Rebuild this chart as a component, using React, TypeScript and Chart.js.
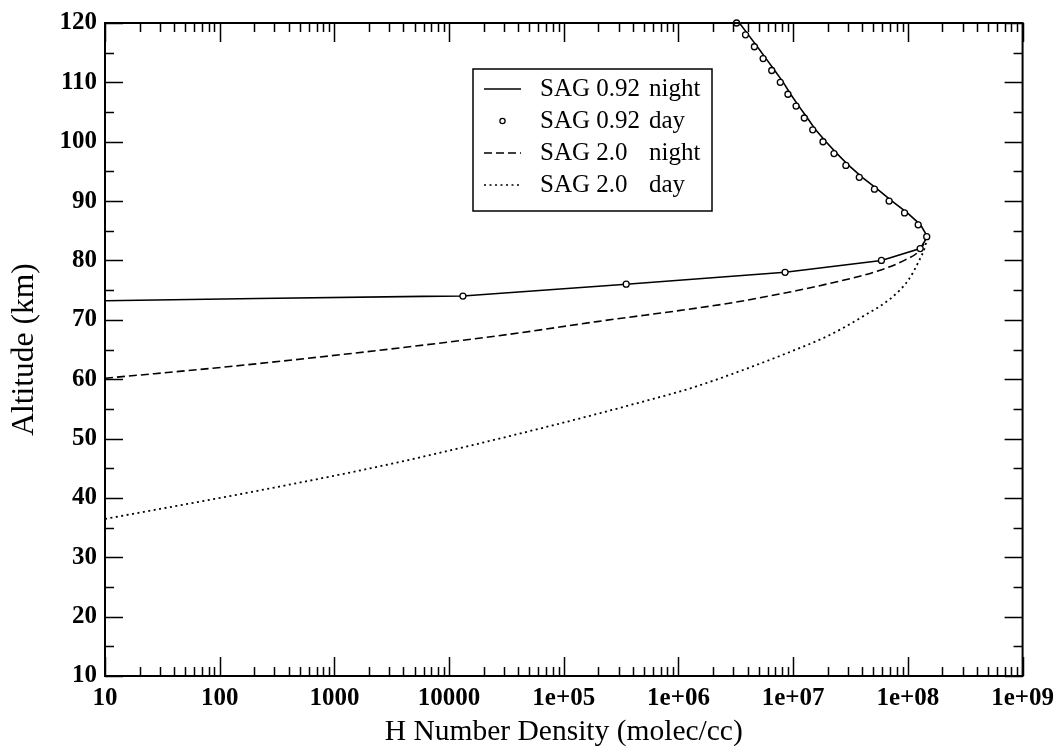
import React, { useEffect, useRef } from 'react';
import { Chart, registerables } from 'chart.js';

Chart.register(...registerables);

const FONT = '"Liberation Serif", "Times New Roman", Times, serif';

// Axis setup / tick labels
const decadeLabels = ['10', '100', '1000', '10000', '1e+05', '1e+06', '1e+07', '1e+08', '1e+09'];
const xMin = 10;
const xMax = 1e9;
const yMin = 10;
const yMax = 120;
const yStep = 10;

// SAG 0.92 night (solid line)
const sag092NightAltitude = [73.22, 73.6, 73.95, 74, 76, 78, 80, 82, 84, 86, 88, 90, 92, 94, 96, 98, 100, 102, 104, 106, 108, 110, 112, 114, 116, 118, 120];
const sag092NightDensity = [10, 212, 5.9e3, 1.32e4, 3.5e5, 8.5e6, 5.88e7, 1.28e8, 1.48e8, 1.29e8, 9.9e7, 7.27e7, 5.42e7, 4.0e7, 3.05e7, 2.41e7, 1.93e7, 1.57e7, 1.33e7, 1.12e7, 9.5e6, 8.2e6, 6.9e6, 5.8e6, 4.87e6, 4.07e6, 3.4e6];

// SAG 0.92 day (circles)
const sag092DayAltitude = [74, 76, 78, 80, 82, 84, 86, 88, 90, 92, 94, 96, 98, 100, 102, 104, 106, 108, 110, 112, 114, 116, 118, 120];
const sag092DayDensity = [1.32e4, 3.5e5, 8.5e6, 5.88e7, 1.28e8, 1.46e8, 1.23e8, 9.35e7, 6.86e7, 5.11e7, 3.77e7, 2.88e7, 2.27e7, 1.82e7, 1.48e7, 1.25e7, 1.06e7, 9.0e6, 7.72e6, 6.5e6, 5.47e6, 4.59e6, 3.84e6, 3.21e6];

// SAG 2.0 night (dashed)
const sag20NightAltitude = [60.15, 62.6, 67.3, 69.7, 72.8, 74.9, 76.1, 78.1, 80.1, 81.8, 84];
const sag20NightDensity = [10, 212, 2.65e4, 1.95e5, 2.77e6, 1.06e7, 2.04e7, 5.21e7, 9.48e7, 1.28e8, 1.48e8];

// SAG 2.0 day (dotted)
const sag20DayAltitude = [36.45, 41.3, 46.0, 52.0, 56.7, 58.6, 65.0, 67.4, 70.5, 73.8, 76.7, 79.8, 82.3, 84];
const sag20DayDensity = [10, 228, 3.6e3, 7.2e4, 6.05e5, 1.34e6, 1.06e7, 2.06e7, 4.0e7, 7.28e7, 1.01e8, 1.24e8, 1.41e8, 1.48e8];

const legendLabels = [
  ['SAG 0.92', 'night'],
  ['SAG 0.92', 'day'],
  ['SAG 2.0', 'night'],
  ['SAG 2.0', 'day'],
];

const toPoints = (xs: number[], ys: number[]) => xs.map((x, i) => ({ x, y: ys[i] }));

const frameTicksPlugin = {
  id: 'frameTicks',
  afterDatasetsDraw(chart: any) {
    const { ctx, chartArea: a, scales } = chart;
    const xs = scales.x;
    const ys = scales.y;
    ctx.save();
    ctx.strokeStyle = '#000';
    ctx.lineWidth = 1.5;
    ctx.beginPath();
    for (let e = 1; e <= 9; e++) {
      for (let m = 1; m <= 9; m++) {
        const v = m * Math.pow(10, e);
        if (v > xMax) break;
        const px = Math.round(xs.getPixelForValue(v)) + 0.5;
        const len = m === 1 ? 19 : 9;
        ctx.moveTo(px, a.bottom);
        ctx.lineTo(px, a.bottom - len);
        ctx.moveTo(px, a.top);
        ctx.lineTo(px, a.top + len);
      }
    }
    for (let v = yMin; v <= yMax; v += yStep / 2) {
      const py = Math.round(ys.getPixelForValue(v)) + 0.5;
      const major = Math.abs((v - yMin) % yStep) < 1e-9;
      const len = major ? 18 : 9;
      ctx.moveTo(a.left, py);
      ctx.lineTo(a.left + len, py);
      ctx.moveTo(a.right, py);
      ctx.lineTo(a.right - len, py);
    }
    ctx.stroke();
    ctx.lineWidth = 2;
    ctx.strokeRect(a.left, a.top, a.right - a.left, a.bottom - a.top);
    ctx.restore();
  },
};

const legendPlugin = {
  id: 'boxLegend',
  afterDraw(chart: any) {
    const { ctx, chartArea: a } = chart;
    const bx = a.left + 368;
    const by = a.top + 46;
    const bw = 239;
    const bh = 142;
    ctx.save();
    ctx.fillStyle = '#fff';
    ctx.fillRect(bx, by, bw, bh);
    ctx.strokeStyle = '#000';
    ctx.lineWidth = 1.5;
    ctx.strokeRect(bx, by, bw, bh);
    const rowY = [20, 52, 84, 116];
    const lx0 = bx + 11;
    const lx1 = bx + 48;
    ctx.font = `25px ${FONT}`;
    ctx.textBaseline = 'middle';
    ctx.fillStyle = '#000';
    legendLabels.forEach((lab, i) => {
      const y = by + rowY[i];
      ctx.lineWidth = 1.6;
      ctx.beginPath();
      if (i === 1) {
        ctx.lineWidth = 1.3;
        ctx.arc((lx0 + lx1) / 2, y, 2.6, 0, Math.PI * 2);
        ctx.stroke();
      } else {
        ctx.setLineDash(i === 0 ? [] : i === 2 ? [8, 4] : [2, 3.5]);
        ctx.moveTo(lx0, y);
        ctx.lineTo(lx1, y);
        ctx.stroke();
        ctx.setLineDash([]);
      }
      ctx.fillText(lab[0], bx + 67, y);
      ctx.fillText(lab[1], bx + 176, y);
    });
    ctx.restore();
  },
};

export default function App() {
  const canvasRef = useRef<HTMLCanvasElement | null>(null);

  useEffect(() => {
    if (!canvasRef.current) return;
    Chart.defaults.font.family = FONT;
    const chart = new Chart(canvasRef.current, {
      type: 'scatter',
      data: {
        datasets: [
          {
            label: 'SAG 0.92 day',
            data: toPoints(sag092DayDensity, sag092DayAltitude),
            showLine: false,
            pointRadius: 3,
            pointBorderWidth: 1.3,
            pointBackgroundColor: '#fff',
            pointBorderColor: '#000',
            clip: false as any,
            order: 0,
          },
          {
            label: 'SAG 0.92 night',
            data: toPoints(sag092NightDensity, sag092NightAltitude),
            showLine: true,
            borderColor: '#000',
            borderWidth: 1.6,
            pointRadius: 0,
            tension: 0,
            order: 1,
          },
          {
            label: 'SAG 2.0 night',
            data: toPoints(sag20NightDensity, sag20NightAltitude),
            showLine: true,
            borderColor: '#000',
            borderWidth: 1.6,
            borderDash: [8, 4],
            pointRadius: 0,
            cubicInterpolationMode: 'monotone',
            order: 2,
          },
          {
            label: 'SAG 2.0 day',
            data: toPoints(sag20DayDensity, sag20DayAltitude),
            showLine: true,
            borderColor: '#000',
            borderWidth: 1.8,
            borderDash: [2, 3.5],
            pointRadius: 0,
            cubicInterpolationMode: 'monotone',
            order: 3,
          },
        ],
      },
      options: {
        animation: false,
        responsive: true,
        maintainAspectRatio: false,
        events: [],
        layout: { padding: { top: 23, right: 34, left: 0, bottom: 0 } },
        plugins: {
          legend: { display: false },
          tooltip: { enabled: false },
        },
        scales: {
          x: {
            type: 'logarithmic',
            min: xMin,
            max: xMax,
            grid: { display: false, drawTicks: false },
            border: { display: false },
            ticks: {
              autoSkip: false,
              maxRotation: 0,
              padding: 8,
              color: '#000',
              font: { size: 25, weight: 'bold' },
              callback: (val: any) => {
                const v = Number(val);
                const e = Math.round(Math.log10(v));
                if (Math.abs(v - Math.pow(10, e)) < 1e-6 * v && e >= 1 && e <= 9) return decadeLabels[e - 1];
                return '';
              },
            },
            title: {
              display: true,
              text: 'H Number Density (molec/cc)',
              color: '#000',
              font: { size: 29.5 },
              padding: { top: 0, bottom: 1 },
            },
            afterFit: (s: any) => {
              s.height = 75;
            },
          },
          y: {
            type: 'linear',
            min: yMin,
            max: yMax,
            grid: { display: false, drawTicks: false },
            border: { display: false },
            ticks: {
              stepSize: yStep,
              padding: 8,
              color: '#000',
              font: { size: 25, weight: 'bold' },
            },
            title: {
              display: true,
              text: 'Altitude (km)',
              color: '#000',
              font: { size: 31.5 },
              padding: { top: 6, bottom: 0 },
            },
            afterFit: (s: any) => {
              s.width = 105;
            },
          },
        },
      } as any,
      plugins: [frameTicksPlugin, legendPlugin],
    });
    return () => chart.destroy();
  }, []);

  return (
    <div style={{ position: 'absolute', left: 0, top: 0, width: 1062, height: 751, background: '#fff' }}>
      <canvas ref={canvasRef} />
    </div>
  );
}
